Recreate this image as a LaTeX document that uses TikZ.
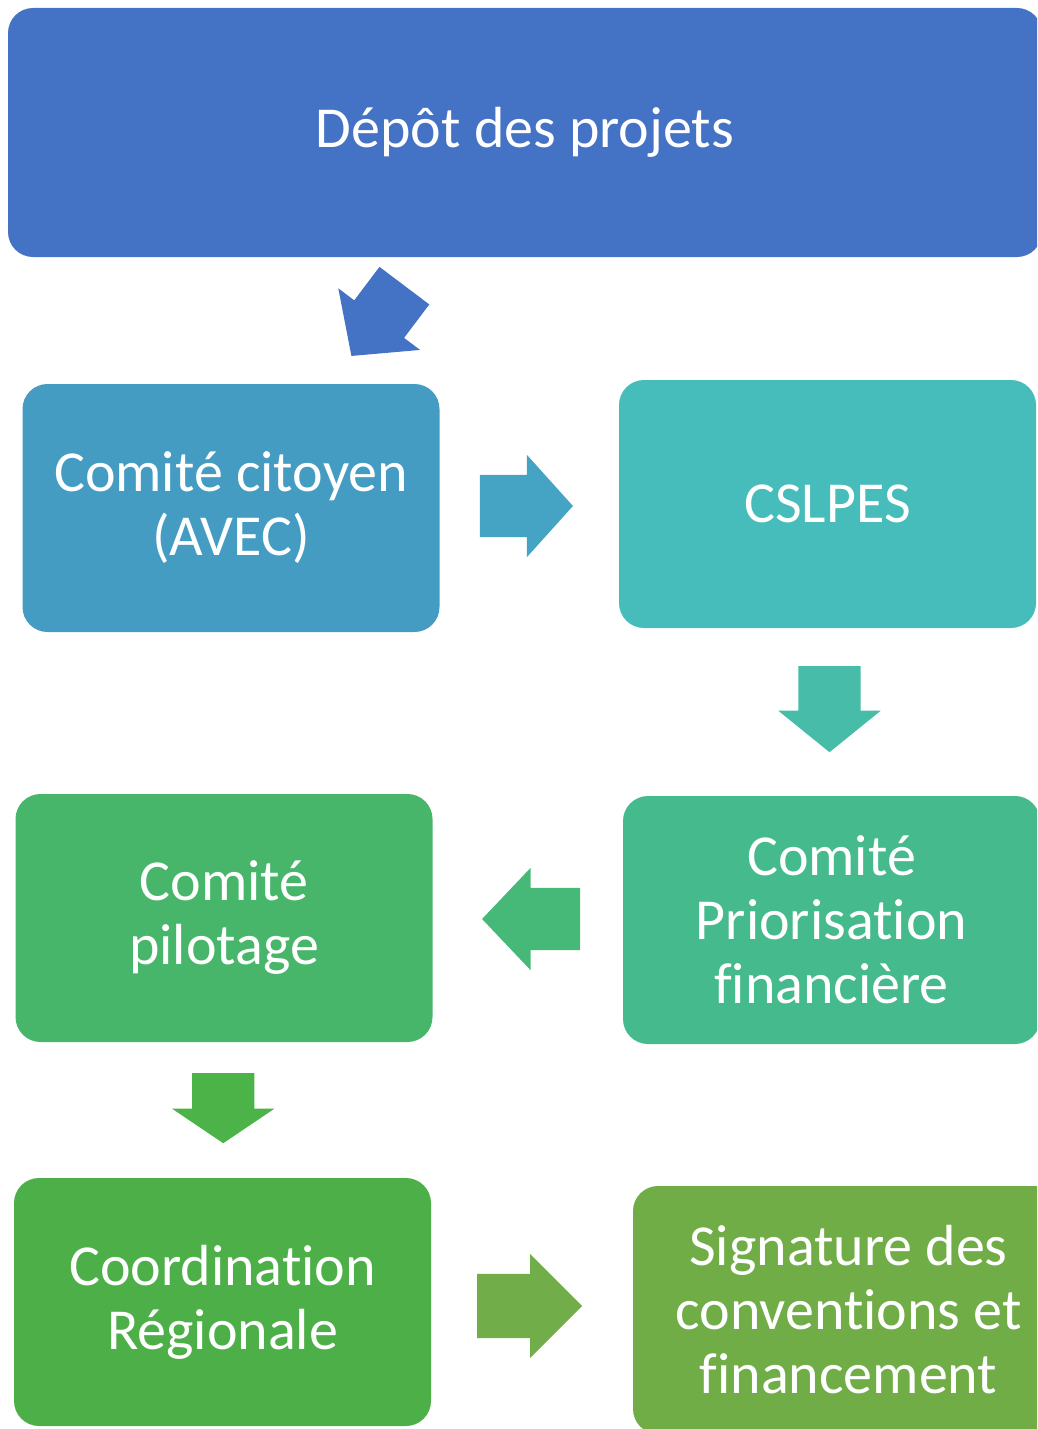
\documentclass[tikz,border=0pt]{standalone}
\usepackage{fontspec}
\setmainfont{Carlito}[Ligatures=NoCommon]
\usetikzlibrary{shapes.arrows,calc}
\definecolor{cdepot}{HTML}{4472C4}
\definecolor{ccit}{HTML}{459CC3}
\definecolor{ccslpes}{HTML}{46BDBA}
\definecolor{cprio}{HTML}{45BA8D}
\definecolor{cpil}{HTML}{48B66A}
\definecolor{ccoord}{HTML}{4DAF48}
\definecolor{csign}{HTML}{70AD47}
\definecolor{fcit}{HTML}{45A3C3}
\definecolor{fcslpes}{HTML}{47BDA9}
\definecolor{fprio}{HTML}{46B978}
\definecolor{fpil}{HTML}{4BB348}
\definecolor{fcoord}{HTML}{71AD48}
\tikzset{
  etape/.style={rectangle, rounded corners=25pt, fill=#1, text=white, align=center,
    inner sep=0pt, minimum width=417pt, minimum height=248pt,
    font=\fontsize{58}{64}\selectfont},
  fleche/.style={single arrow, fill=#1, draw=none, inner sep=0pt, inner ysep=31pt,
    single arrow head extend=20pt, anchor=tail},
}
\begin{document}
\begin{tikzpicture}[x=1pt,y=-1pt]
  \useasboundingbox (0,0) rectangle (1037,1429);
  \clip (0,0) rectangle (1037,1429);
  % etapes
  \node[etape=cdepot, minimum width=1034pt, minimum height=249pt] (depot) at (525,132.5) {Dépôt des projets};
  \node[etape=ccit] (cit) at (231,508) {Comité citoyen\\(AVEC)};
  \node[etape=ccslpes] (cslpes) at (827.5,504) {CSLPES};
  \node[etape=cprio] (prio) at (831.5,920) {Comité\\Priorisation\\financière};
  \node[etape=cpil] (pil) at (224,918) {Comité\\pilotage};
  \node[etape=ccoord] (coord) at (222.5,1302) {Coordination\\Régionale};
  \node[etape=csign, minimum width=431pt] (sign) at (848.5,1310) {Signature des\\conventions et\\financement};
  % fleches (placees par leur queue)
  \node[fleche=cdepot, minimum height=88pt, single arrow tip angle=96, rotate=-127] (f1) at ($(depot.south)!.5!(cit.north)+(26.5,-35)$) {};
  \node[fleche=fcit, minimum height=93pt, single arrow tip angle=96] (f2) at ($(cit.east)!.5!(cslpes.west)+(-49.5,0)$) {};
  \node[fleche=fcslpes, minimum height=86pt, single arrow tip angle=102, rotate=-90] (f3) at ($(cslpes.south)!.5!(prio.north)+(0,-46)$) {};
  \node[fleche=fprio, minimum height=98pt, single arrow tip angle=93, rotate=180] (f4) at ($(prio.west)!.5!(pil.east)+(52.5,0)$) {};
  \node[fleche=fpil, minimum height=70pt, single arrow tip angle=112, rotate=-90] (f5) at ($(pil.south)!.5!(coord.north)+(0,-37)$) {};
  \node[fleche=fcoord, minimum height=105pt, single arrow tip angle=90, inner ysep=32pt] (f6) at ($(coord.east)!.5!(sign.west)+(-55,0)$) {};
\end{tikzpicture}
\end{document}
